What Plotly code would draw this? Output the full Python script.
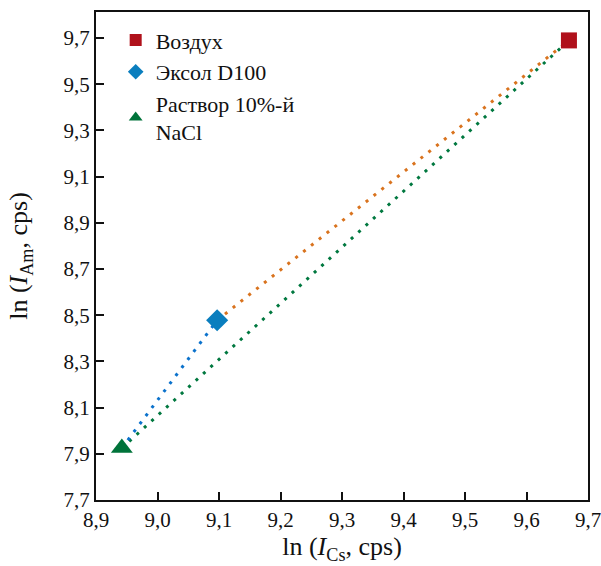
import plotly.graph_objects as go

names = ["Воздух", "Эксол D100", "Раствор 10%-й<br>NaCl"]
x_vals = [9.669, 9.097, 8.942]
y_vals = [9.69, 8.478, 7.925]
marker_colors = ["#B0111B", "#0A7EBE", "#00733A"]
marker_symbols = ["square", "diamond", "triangle-up"]
marker_sizes = [16, 17, 19]

# dotted connecting segments: (from index, to index, color)
segments = [(1, 0, "#D9731E"), (2, 0, "#00783F"), (2, 1, "#0B72CC")]

x_ticks = [8.9, 9.0, 9.1, 9.2, 9.3, 9.4, 9.5, 9.6, 9.7]
y_ticks = [7.7, 7.9, 8.1, 8.3, 8.5, 8.7, 8.9, 9.1, 9.3, 9.5, 9.7]

fig = go.Figure()
for a, b, c in segments:
    fig.add_trace(go.Scatter(
        x=[x_vals[a], x_vals[b]], y=[y_vals[a], y_vals[b]],
        mode="lines", line=dict(color=c, width=3, dash="3px,7px"),
        showlegend=False, hoverinfo="skip"))
for i in range(3):
    fig.add_trace(go.Scatter(
        x=[x_vals[i]], y=[y_vals[i]], mode="markers", name=names[i],
        marker=dict(symbol=marker_symbols[i], color=marker_colors[i],
                    size=marker_sizes[i], line=dict(width=0))))

font_family = "Liberation Serif, DejaVu Serif, serif"
fig.update_layout(
    width=601, height=566,
    margin=dict(l=96, r=13, t=12, b=66, autoexpand=False),
    plot_bgcolor="white", paper_bgcolor="white",
    separators=", ",
    font=dict(family=font_family, size=22, color="#111"),
    legend=dict(x=0.04, y=0.985, xanchor="left", yanchor="top",
                bgcolor="rgba(0,0,0,0)", font=dict(size=22), tracegroupgap=0,
                itemsizing="constant"),
    xaxis=dict(range=[8.9, 9.7], tickvals=x_ticks, tickformat=".1f",
               tickfont=dict(size=21), ticklabeloverflow="allow",
               ticks="inside", ticklen=8, tickwidth=1.5, tickcolor="#111",
               showline=True, linecolor="#111", linewidth=2, mirror=True,
               showgrid=False, zeroline=False, automargin=False,
               title=dict(text="ln (<i>I</i><sub>Cs</sub>, cps)", standoff=4)),
    yaxis=dict(range=[7.7, 9.813], tickvals=y_ticks, tickformat=".1f",
               tickfont=dict(size=21),
               ticks="inside", ticklen=8, tickwidth=1.5, tickcolor="#111",
               showline=True, linecolor="#111", linewidth=2, mirror=True,
               showgrid=False, zeroline=False, automargin=False,
               title=dict(text="ln (<i>I</i><sub>Am</sub>, cps)", standoff=28)),
)

fig.write_html("out.html", config={"displayModeBar": False},
               post_script="document.body.style.margin='0';document.body.style.padding='0';")
